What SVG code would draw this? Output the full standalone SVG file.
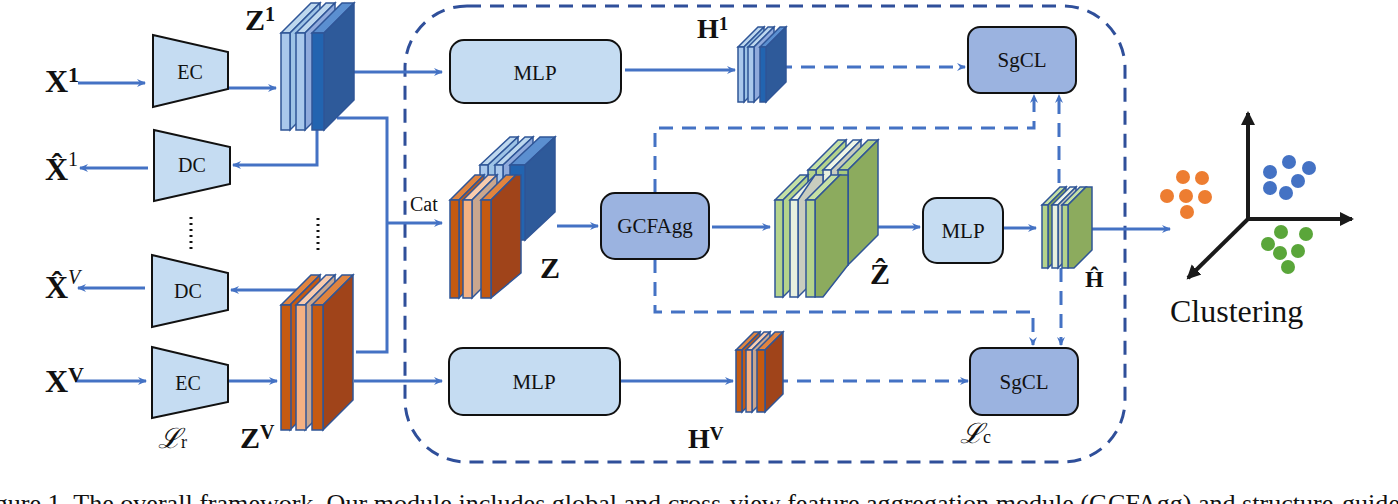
<svg xmlns="http://www.w3.org/2000/svg" width="1398" height="504" viewBox="0 0 1398 504" font-family="'Liberation Serif', 'Times New Roman', 'DejaVu Serif', serif">
<defs>
<marker id="ar" markerWidth="10" markerHeight="10" refX="8" refY="5" orient="auto" markerUnits="userSpaceOnUse"><path d="M0,1 L9,5 L0,9 L3,5 Z" fill="#4472c4"/></marker>
<marker id="ak" markerWidth="16" markerHeight="16" refX="12" refY="8" orient="auto" markerUnits="userSpaceOnUse"><path d="M0,1 L14,8 L0,15 Z" fill="#1a1a1a"/></marker>
<style>
.ln{fill:none;stroke:#4472c4;stroke-width:3}
.ds{fill:none;stroke:#4472c4;stroke-width:3;stroke-dasharray:14 9}
.out{fill:none;stroke:#2f4f9a;stroke-width:3;stroke-dasharray:14 9}
.tz{fill:#c5dcf2;stroke:#111;stroke-width:2}
.bl{fill:#c5dcf2;stroke:#111;stroke-width:2}
.dk{fill:#9bb3e0;stroke:#111;stroke-width:2}
text{fill:#111}
.b{font-weight:bold}
.sl polygon,.sl rect{stroke:#2f5597;stroke-width:1.5}
</style>
</defs>
<rect x="405" y="6" width="720" height="456" rx="62" class="out"/>
<g id="connectors">
<path class="ln" d="M78,83 H145" marker-end="url(#ar)"/>
<path class="ln" d="M228,88 H276" marker-end="url(#ar)"/>
<path class="ln" d="M317,130 V165 H233" marker-end="url(#ar)"/>
<path class="ln" d="M148,168 H80" marker-end="url(#ar)"/>
<path class="ln" d="M300,305 V290 H231" marker-end="url(#ar)"/>
<path class="ln" d="M145,288 H78" marker-end="url(#ar)"/>
<path class="ln" d="M75,381 H146" marker-end="url(#ar)"/>
<path class="ln" d="M228,381 H277" marker-end="url(#ar)"/>
<path class="ln" d="M354,72 H442" marker-end="url(#ar)"/>
<path class="ln" d="M337,118 H387 V352 H356"/>
<path class="ln" d="M387,223 H442" marker-end="url(#ar)"/>
<path class="ln" d="M354,381 H442" marker-end="url(#ar)"/>
<path class="ln" d="M625,70 H735" marker-end="url(#ar)"/>
<path class="ds" d="M778,67 H965" marker-end="url(#ar)"/>
<path class="ln" d="M594,381 H733" marker-end="url(#ar)"/>
<path class="ds" d="M774,381 H968" marker-end="url(#ar)"/>
<path class="ln" d="M557,226 H598" marker-end="url(#ar)"/>
<path class="ln" d="M712,227 H770" marker-end="url(#ar)"/>
<path class="ln" d="M848,227 H920" marker-end="url(#ar)"/>
<path class="ln" d="M1004,228 H1036" marker-end="url(#ar)"/>
<path class="ln" d="M1092,229 H1170" marker-end="url(#ar)"/>
<path class="ds" d="M655,193 V128 H1034 V95" marker-end="url(#ar)"/>
<path class="ds" d="M655,259 V312 H1033 V345" marker-end="url(#ar)"/>
<path class="ds" d="M1059,183 V95" marker-end="url(#ar)"/>
<path class="ds" d="M1061,268 V345" marker-end="url(#ar)"/>
<path d="M191,217 V250 M318,218 V250" stroke="#111" stroke-width="3" stroke-dasharray="2 4"/>
</g>
<g id="labels-left" font-family="'Liberation Serif', serif">
<text font-family="'Liberation Serif', serif" class="b" x="45" y="92" font-size="32">X<tspan font-size="22" dy="-10">1</tspan></text>
<text font-family="'Liberation Serif', serif" class="b" x="45" y="180" font-size="32">X̂<tspan font-size="20" dy="-14" font-weight="normal">1</tspan></text>
<text font-family="'Liberation Serif', serif" class="b" x="45" y="298" font-size="32">X̂<tspan font-size="20" dy="-14" font-weight="normal" font-style="italic">V</tspan></text>
<text font-family="'Liberation Serif', serif" class="b" x="45" y="392" font-size="32">X<tspan font-size="22" dy="-10">V</tspan></text>
<text font-family="'Liberation Serif', serif" class="b" x="245" y="30" font-size="30">Z<tspan font-size="20" dy="-9">1</tspan></text>
<text font-family="'Liberation Serif', serif" class="b" x="240" y="448" font-size="30">Z<tspan font-size="20" dy="-9">V</tspan></text>
<text font-family="'Liberation Serif', serif" x="158" y="448" font-size="28" font-style="italic">ℒ<tspan font-size="18" font-style="normal">r</tspan></text>
</g>
<g id="EC1"><polygon class="tz" points="153,35 228,52 228,89 153,107"/><text font-family="'Liberation Serif', serif" x="190" y="79" font-size="20" text-anchor="middle">EC</text></g>
<g id="DC1"><polygon class="tz" points="154,130 230,147 230,184 154,201"/><text font-family="'Liberation Serif', serif" x="192" y="172" font-size="20" text-anchor="middle">DC</text></g>
<g id="DCV"><polygon class="tz" points="152,255 228,273 228,310 152,327"/><text font-family="'Liberation Serif', serif" x="188" y="298" font-size="20" text-anchor="middle">DC</text></g>
<g id="ECV"><polygon class="tz" points="152,347 228,365 228,402 152,418"/><text font-family="'Liberation Serif', serif" x="188" y="390" font-size="20" text-anchor="middle">EC</text></g>
<g id="Z1" class="sl">
<polygon points="281,33 311,3 320,3 290,33" fill="#bdd7ee"/><polygon points="290,33 320,3 320,100 290,130" fill="#9dc3e6"/><rect x="281" y="33" width="9" height="97" fill="#a9c8ec"/>
<polygon points="296,33 326,3 335,3 305,33" fill="#bdd7ee"/><polygon points="305,33 335,3 335,100 305,130" fill="#8faadc"/><rect x="296" y="33" width="9" height="97" fill="#a9c8ec"/>
<polygon points="312,33 342,3 354,3 324,33" fill="#5b8fd0"/><polygon points="324,33 354,3 354,100 324,130" fill="#2e5a9a"/><rect x="312" y="33" width="12" height="97" fill="#2264b0"/>
</g>
<g id="ZV" class="sl">
<polygon points="281,305 311,275 320,275 290,305" fill="#e0843f"/><polygon points="290,305 320,275 320,400 290,430" fill="#c55a11"/><rect x="281" y="305" width="10" height="125" fill="#c55a11"/>
<polygon points="296,305 326,275 335,275 305,305" fill="#f8cbad"/><polygon points="305,305 335,275 335,400 305,430" fill="#c9a68e"/><rect x="296" y="305" width="10" height="125" fill="#f4b183"/>
<polygon points="312,305 342,275 353,275 323,305" fill="#e0843f"/><polygon points="323,305 353,275 353,400 323,430" fill="#a0441a"/><rect x="312" y="305" width="11" height="125" fill="#c55a11"/>
</g>
<g id="MLP1"><rect class="bl" x="450" y="40" width="171" height="63" rx="14"/><text font-family="'Liberation Serif', serif" x="535" y="80" font-size="21" text-anchor="middle">MLP</text></g>
<g id="MLPV"><rect class="bl" x="449" y="348" width="171" height="67" rx="14"/><text font-family="'Liberation Serif', serif" x="534" y="389" font-size="21" text-anchor="middle">MLP</text></g>
<g id="H1" class="sl">
<polygon points="738,47 758,27 764,27 744,47" fill="#bdd7ee"/><polygon points="744,47 764,27 764,82 744,102" fill="#9dc3e6"/><rect x="738" y="47" width="6" height="55" fill="#a9c8ec"/>
<polygon points="748,47 768,27 774,27 754,47" fill="#bdd7ee"/><polygon points="754,47 774,27 774,82 754,102" fill="#8faadc"/><rect x="748" y="47" width="6" height="55" fill="#a9c8ec"/>
<polygon points="760,47 780,27 786,27 766,47" fill="#5b8fd0"/><polygon points="766,47 786,27 786,82 766,102" fill="#2e5a9a"/><rect x="760" y="47" width="6" height="55" fill="#2264b0"/>
<text font-family="'Liberation Serif', serif" class="b" x="697" y="38" font-size="28" stroke="none">H<tspan font-size="19" dy="-8">1</tspan></text>
</g>
<g id="HV" class="sl">
<polygon points="736,350 754,332 760,332 742,350" fill="#e0843f"/><polygon points="742,350 760,332 760,394 742,412" fill="#c55a11"/><rect x="736" y="350" width="6" height="62" fill="#c55a11"/>
<polygon points="746,350 764,332 770,332 752,350" fill="#f8cbad"/><polygon points="752,350 770,332 770,394 752,412" fill="#c9a68e"/><rect x="746" y="350" width="6" height="62" fill="#f4b183"/>
<polygon points="757,350 775,332 783,332 765,350" fill="#e0843f"/><polygon points="765,350 783,332 783,394 765,412" fill="#a0441a"/><rect x="757" y="350" width="8" height="62" fill="#c55a11"/>
<text font-family="'Liberation Serif', serif" class="b" x="688" y="448" font-size="28" stroke="none">H<tspan font-size="19" dy="-8">V</tspan></text>
</g>
<g id="SgCL1"><rect class="dk" x="968" y="27" width="108" height="66" rx="12"/><text font-family="'Liberation Serif', serif" x="1022" y="67" font-size="21" text-anchor="middle">SgCL</text></g>
<g id="SgCLV"><rect class="dk" x="970" y="348" width="108" height="67" rx="12"/><text font-family="'Liberation Serif', serif" x="1024" y="389" font-size="21" text-anchor="middle">SgCL</text></g>
<text font-family="'Liberation Serif', serif" x="960" y="443" font-size="28" font-style="italic">ℒ<tspan font-size="18" font-style="normal">c</tspan></text>
<g id="Z" class="sl">
<polygon points="480,165 510,137 518,137 488,165" fill="#bdd7ee"/><polygon points="488,165 518,137 518,212 488,240" fill="#9dc3e6"/><rect x="480" y="165" width="8" height="75" fill="#a9c8ec"/>
<polygon points="495,165 525,137 533,137 503,165" fill="#bdd7ee"/><polygon points="503,165 533,137 533,212 503,240" fill="#8faadc"/><rect x="495" y="165" width="8" height="75" fill="#a9c8ec"/>
<polygon points="510,165 540,137 555,137 525,165" fill="#5b8fd0"/><polygon points="525,165 555,137 555,212 525,240" fill="#2e5a9a"/><rect x="510" y="165" width="15" height="75" fill="#2264b0"/>
<polygon points="450,200 475,175 484,175 459,200" fill="#e0843f"/><polygon points="459,200 484,175 484,273 459,298" fill="#c55a11"/><rect x="450" y="200" width="9" height="98" fill="#c55a11"/>
<polygon points="463,200 488,175 497,175 472,200" fill="#f8cbad"/><polygon points="472,200 497,175 497,273 472,298" fill="#c9a68e"/><rect x="463" y="200" width="9" height="98" fill="#f4b183"/>
<polygon points="481,200 506,175 516,175 491,200" fill="#e0843f"/><polygon points="491,200 516,175 521,175 521,273 491,298" fill="#a0441a"/><rect x="481" y="200" width="10" height="98" fill="#c55a11"/>
</g>
<text font-family="'Liberation Serif', serif" x="410" y="211" font-size="20">Cat</text>
<text font-family="'Liberation Serif', serif" class="b" x="540" y="278" font-size="30">Z</text>
<g id="GCFAgg"><rect class="dk" x="601" y="193" width="108" height="66" rx="14"/><text font-family="'Liberation Serif', serif" x="655" y="233" font-size="21" text-anchor="middle">GCFAgg</text></g>
<g id="Zhat" class="sl">
<polygon points="808,170 838,140 846,140 816,170" fill="#c5e0a5"/><polygon points="816,170 846,140 846,235 816,265" fill="#b4d38c"/><rect x="808" y="170" width="8" height="95" fill="#b4d38c"/>
<polygon points="823,170 853,140 861,140 831,170" fill="#eef4e6"/><polygon points="831,170 861,140 861,235 831,265" fill="#c9cdbf"/><rect x="823" y="170" width="8" height="95" fill="#e8f0df"/>
<polygon points="838,170 868,140 878,140 848,170" fill="#b4d38c"/><polygon points="848,170 878,140 878,235 848,265" fill="#8cab5e"/><rect x="838" y="170" width="10" height="95" fill="#a9c97d"/>
<polygon points="775,200 800,175 808,175 783,200" fill="#c5e0a5"/><polygon points="783,200 808,175 808,272 783,297" fill="#b4d38c"/><rect x="775" y="200" width="8" height="97" fill="#b4d38c"/>
<polygon points="790,200 815,175 823,175 798,200" fill="#eef4e6"/><polygon points="798,200 815,175 823,175 823,272 798,297" fill="#c9cdbf"/><rect x="790" y="200" width="8" height="97" fill="#e8f0df"/>
<polygon points="806,200 831,175 840,175 815,200" fill="#c5e0a5"/><polygon points="815,200 840,175 848,175 848,265 823,297 815,297" fill="#8cab5e"/><rect x="806" y="200" width="9" height="97" fill="#b4d38c"/>
</g>
<text font-family="'Liberation Serif', serif" class="b" x="870" y="284" font-size="30">Ẑ</text>
<g id="MLP2"><rect class="bl" x="923" y="198" width="80" height="65" rx="14"/><text font-family="'Liberation Serif', serif" x="963" y="238" font-size="21" text-anchor="middle">MLP</text></g>
<g id="Hhat" class="sl">
<polygon points="1042,205 1060,187 1066,187 1048,205" fill="#c5e0a5"/><polygon points="1048,205 1066,187 1066,250 1048,268" fill="#8cab5e"/><rect x="1042" y="205" width="6" height="63" fill="#b4d38c"/>
<polygon points="1052,205 1070,187 1076,187 1058,205" fill="#eef4e6"/><polygon points="1058,205 1076,187 1076,250 1058,268" fill="#c9cdbf"/><rect x="1052" y="205" width="6" height="63" fill="#e8f0df"/>
<polygon points="1062,205 1080,187 1086,187 1068,205" fill="#c5e0a5"/><polygon points="1068,205 1086,187 1092,187 1092,250 1074,268 1068,268" fill="#8cab5e"/><rect x="1062" y="205" width="6" height="63" fill="#b4d38c"/>
</g>
<text font-family="'Liberation Serif', serif" class="b" x="1085" y="287" font-size="24">Ĥ</text>
<g id="Clustering">
<path d="M1248,219 V113" stroke="#1a1a1a" stroke-width="4" marker-end="url(#ak)"/>
<path d="M1248,219 H1352" stroke="#1a1a1a" stroke-width="4" marker-end="url(#ak)"/>
<path d="M1248,219 L1188,278" stroke="#1a1a1a" stroke-width="4" marker-end="url(#ak)"/>
<g fill="#ed7d31"><circle cx="1183" cy="177" r="7"/><circle cx="1202" cy="178" r="7"/><circle cx="1167" cy="196" r="7"/><circle cx="1186" cy="196" r="7"/><circle cx="1205" cy="197" r="7"/><circle cx="1187" cy="212" r="7"/></g>
<g fill="#4472c4"><circle cx="1289" cy="162" r="7"/><circle cx="1270" cy="172" r="7"/><circle cx="1309" cy="168" r="7"/><circle cx="1298" cy="181" r="7"/><circle cx="1270" cy="188" r="7"/><circle cx="1286" cy="193" r="7"/></g>
<g fill="#5aa63a"><circle cx="1281" cy="232" r="7"/><circle cx="1306" cy="234" r="7"/><circle cx="1268" cy="244" r="7"/><circle cx="1280" cy="253" r="7"/><circle cx="1298" cy="251" r="7"/><circle cx="1288" cy="267" r="7"/></g>
<text font-family="'Liberation Serif', serif" x="1170" y="322" font-size="32">Clustering</text>
</g>
<text font-family="'Liberation Serif', serif" x="-27" y="512" font-size="25" textLength="1440" lengthAdjust="spacingAndGlyphs">Figure 1. The overall framework. Our module includes global and cross-view feature aggregation module (GCFAgg) and structure-guided</text>
</svg>
